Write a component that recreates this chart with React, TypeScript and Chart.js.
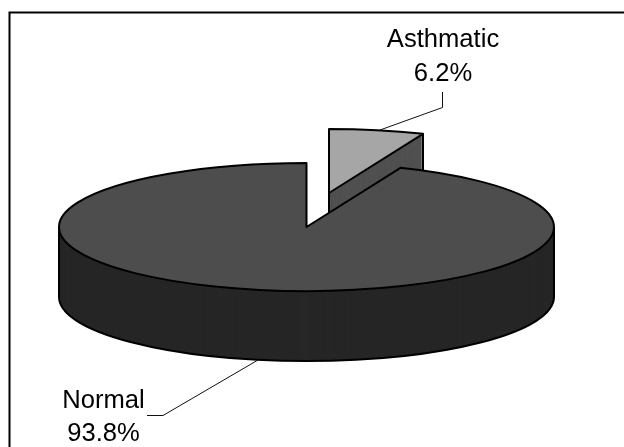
import React, { useEffect, useRef } from "react";
import { Chart, registerables } from "chart.js";

Chart.register(...registerables);

const categories = ["Asthmatic", "Normal"];
const shares = [6.2, 93.8];
const topColors = ["#a6a6a6", "#4d4d4d"];
const sideColors = ["#505050", "#262626"];

const FONT = '25.6px "Liberation Sans", Arial, sans-serif';
const CX = 306.5;
const CY = 227;
const RX = 247.5;
const RY = 64;
const DEPTH = 70;
const EXPLODE = [
  [22.5, -34],
  [0, 0],
];

const pie3d = {
  id: "pie3d",
  beforeDatasetsDraw(chart: any) {
    const { ctx } = chart;
    const arcs = chart.getDatasetMeta(0).data;
    arcs.forEach((arc: any, i: number) => {
      const cx = CX + EXPLODE[i][0];
      const cy = CY + EXPLODE[i][1];
      const R = arc.outerRadius;
      const sx = RX / R;
      const sy = RY / R;
      const paint = (lift: number, color: string) => {
        ctx.save();
        ctx.translate(cx, cy + lift);
        ctx.scale(sx, sy);
        ctx.translate(-arc.x, -arc.y);
        const saved = arc.options.backgroundColor;
        arc.options.backgroundColor = color;
        arc.draw(ctx);
        arc.options.backgroundColor = saved;
        ctx.restore();
      };
      for (let d = DEPTH; d >= 1; d--) paint(d, sideColors[i]);
      paint(0, topColors[i]);

      const a0 = arc.startAngle;
      const a1 = arc.endAngle;
      ctx.save();
      ctx.strokeStyle = "#000";
      ctx.lineWidth = 2;
      ctx.lineJoin = "round";
      // top face outline
      ctx.beginPath();
      ctx.moveTo(cx, cy);
      ctx.ellipse(cx, cy, RX, RY, 0, a0, a1);
      ctx.closePath();
      ctx.stroke();
      // silhouette of the side wall
      ctx.beginPath();
      if (i === 1) {
        ctx.moveTo(cx + RX, cy);
        ctx.lineTo(cx + RX, cy + DEPTH);
        ctx.ellipse(cx, cy + DEPTH, RX, RY, 0, 0, Math.PI);
        ctx.lineTo(cx - RX, cy);
      } else {
        const ex = cx + RX * Math.cos(a1);
        const ey = cy + RY * Math.sin(a1);
        ctx.moveTo(cx, cy);
        ctx.lineTo(cx, cy + DEPTH);
        ctx.moveTo(ex, ey);
        ctx.lineTo(ex, ey + DEPTH);
      }
      ctx.stroke();
      ctx.restore();
    });
    return false;
  },
  afterDraw(chart: any) {
    const { ctx } = chart;
    ctx.save();
    // frame
    ctx.strokeStyle = "#000";
    ctx.lineWidth = 2;
    ctx.beginPath();
    ctx.moveTo(9.5, 447);
    ctx.lineTo(9.5, 12.5);
    ctx.lineTo(624, 12.5);
    ctx.stroke();
    // leader lines
    ctx.lineWidth = 1;
    ctx.strokeStyle = "#111";
    ctx.beginPath();
    ctx.moveTo(442.5, 92);
    ctx.lineTo(442.5, 107.5);
    ctx.lineTo(380, 130);
    ctx.moveTo(147, 415.5);
    ctx.lineTo(163, 415.5);
    ctx.lineTo(258, 360);
    ctx.stroke();
    // labels
    ctx.font = FONT;
    ctx.fillStyle = "#000";
    ctx.textAlign = "center";
    ctx.textBaseline = "alphabetic";
    const places = [
      [443, 47, 81],
      [103.5, 408, 441],
    ];
    categories.forEach((name, i) => {
      ctx.fillText(name, places[i][0], places[i][1]);
      ctx.fillText(`${shares[i].toFixed(1)}%`, places[i][0], places[i][2]);
    });
    ctx.restore();
  },
};

export default function App() {
  const ref = useRef<HTMLCanvasElement>(null);
  useEffect(() => {
    document.body.style.margin = "0";
    document.body.style.background = "#fff";
    const chart = new Chart(ref.current!, {
      type: "pie",
      data: {
        labels: categories,
        datasets: [
          {
            data: shares,
            backgroundColor: topColors,
            borderWidth: 0,
          },
        ],
      },
      options: {
        responsive: false,
        animation: false,
        devicePixelRatio: 1,
        plugins: { legend: { display: false }, tooltip: { enabled: false } },
      },
      plugins: [pie3d],
    } as any);
    return () => chart.destroy();
  }, []);
  return <canvas ref={ref} width={624} height={447} style={{ display: "block" }} />;
}
